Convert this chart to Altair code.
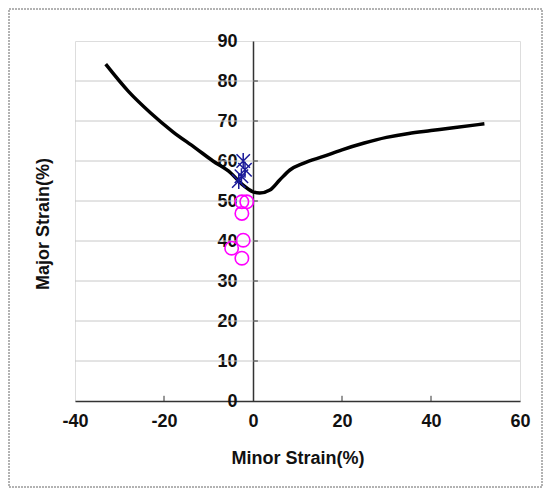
import altair as alt
import pandas as pd

# Forming limit curve
curve_x = [-33.1, -28.0, -23.0, -18.0, -13.0, -9.0, -5.0, -2.5, 0.0, 1.5, 3.8, 6.0, 8.3, 11.3, 16.0, 20.0, 25.0, 30.0, 35.0, 40.0, 45.0, 52.0]
curve_y = [84.2, 77.4, 72.0, 67.3, 63.3, 60.0, 57.0, 54.2, 52.3, 52.0, 52.75, 55.25, 57.75, 59.4, 61.2, 62.8, 64.5, 65.9, 66.9, 67.6, 68.3, 69.3]

# Blue asterisks
star_x = [-2.2, -1.8, -2.6, -3.2]
star_y = [60.0, 57.8, 56.2, 55.0]

# Magenta circles
circ_x = [-2.5, -1.4, -2.5, -2.2, -4.8, -2.5]
circ_y = [49.8, 49.8, 46.9, 40.2, 38.2, 35.7]

x_ticks = [-40, -20, 0, 20, 40, 60]
y_ticks = [0, 10, 20, 30, 40, 50, 60, 70, 80, 90]
grid_y = [10, 20, 30, 40, 50, 60, 70, 80]
inner_x_ticks = [-20, 20, 40]

W, H = 445, 360
FONT = "Liberation Sans"
FS = 18

curve_df = pd.DataFrame({"x": curve_x, "y": curve_y, "order": list(range(len(curve_x)))})
star_df = pd.DataFrame({"x": star_x, "y": star_y})
circ_df = pd.DataFrame({"x": circ_x, "y": circ_y})
grid_df = pd.DataFrame({"y": grid_y})
xt_df = pd.DataFrame({"x": inner_x_ticks})

xscale = alt.Scale(domain=[-40, 60], nice=False)
yscale = alt.Scale(domain=[0, 90], nice=False)

xaxis = alt.Axis(
    values=x_ticks, grid=False, ticks=False, domainColor="#333333", domainWidth=1.5,
    labelPadding=11, labelFontSize=FS, labelFontWeight="bold", labelFont=FONT, labelColor="#111111",
    labelExpr="'' + datum.value",
    title="Minor Strain(%)", titleFontSize=FS, titleFontWeight="bold", titleFont=FONT,
    titlePadding=19, titleColor="#111111", labelFlush=False,
)
yaxis = alt.Axis(
    values=y_ticks, grid=False, ticks=False, domainColor="#333333", domainWidth=1.5,
    offset=-W * 0.4, labelPadding=16, labelFontSize=FS, labelFontWeight="bold", labelFont=FONT,
    labelColor="#111111", labelExpr="'' + datum.value", title=None, labelFlush=False,
)

base_x = alt.X("x:Q", scale=xscale, axis=xaxis)
base_y = alt.Y("y:Q", scale=yscale, axis=yaxis)

grid = alt.Chart(grid_df).mark_rule(color="#c8c8c8", strokeWidth=1).encode(
    y=alt.Y("y:Q", scale=yscale, axis=yaxis)
)

ytick = alt.Chart(grid_df).mark_rule(color="#333333", strokeWidth=1).encode(
    x=alt.datum(0, scale=xscale, axis=xaxis),
    x2=alt.datum(1.1),
    y=alt.Y("y:Q", scale=yscale, axis=yaxis),
)

xtick = alt.Chart(xt_df).mark_rule(color="#333333", strokeWidth=1).encode(
    x=alt.X("x:Q", scale=xscale, axis=xaxis),
    y=alt.datum(0, scale=yscale, axis=yaxis),
    y2=alt.datum(1.3),
)

line = alt.Chart(curve_df).mark_line(color="black", strokeWidth=3.5, interpolate="monotone").encode(
    x=base_x, y=base_y, order="order:Q"
)

stars = alt.Chart(star_df).mark_point(
    shape="M-1,-1L1,1M-1,1L1,-1M0,-1.2L0,1.2", filled=False, color="#1a1a99",
    size=180, strokeWidth=1.5, opacity=1,
).encode(x=base_x, y=base_y)

circles = alt.Chart(circ_df).mark_point(
    shape="circle", filled=False, color="#ff00ff", size=180, strokeWidth=1.6, opacity=1,
).encode(x=base_x, y=base_y)

ytitle = alt.Chart(pd.DataFrame({"t": ["Major Strain(%)"]})).mark_text(
    angle=270, font=FONT, fontSize=FS, fontWeight="bold", color="#111111", align="center", baseline="middle",
).encode(x=alt.value(-31), y=alt.value(H / 2 + 3), text="t:N")

border = alt.Chart(pd.DataFrame({"a": [0]})).mark_rect(
    fill=None, stroke="#666666", strokeDash=[2, 1], strokeWidth=1,
).encode(x=alt.value(-66), x2=alt.value(467), y=alt.value(-32), y2=alt.value(446))

chart = alt.layer(grid, ytick, xtick, line, stars, circles, ytitle, border).properties(
    width=W, height=H,
    autosize=alt.AutoSizeParams(type="none"),
    padding={"left": 67, "top": 33, "right": 23, "bottom": 87},
).configure_view(stroke="#888888", strokeWidth=1.2).configure(background="white")

chart.save("out.html", embed_options={"renderer": "svg", "actions": False})
